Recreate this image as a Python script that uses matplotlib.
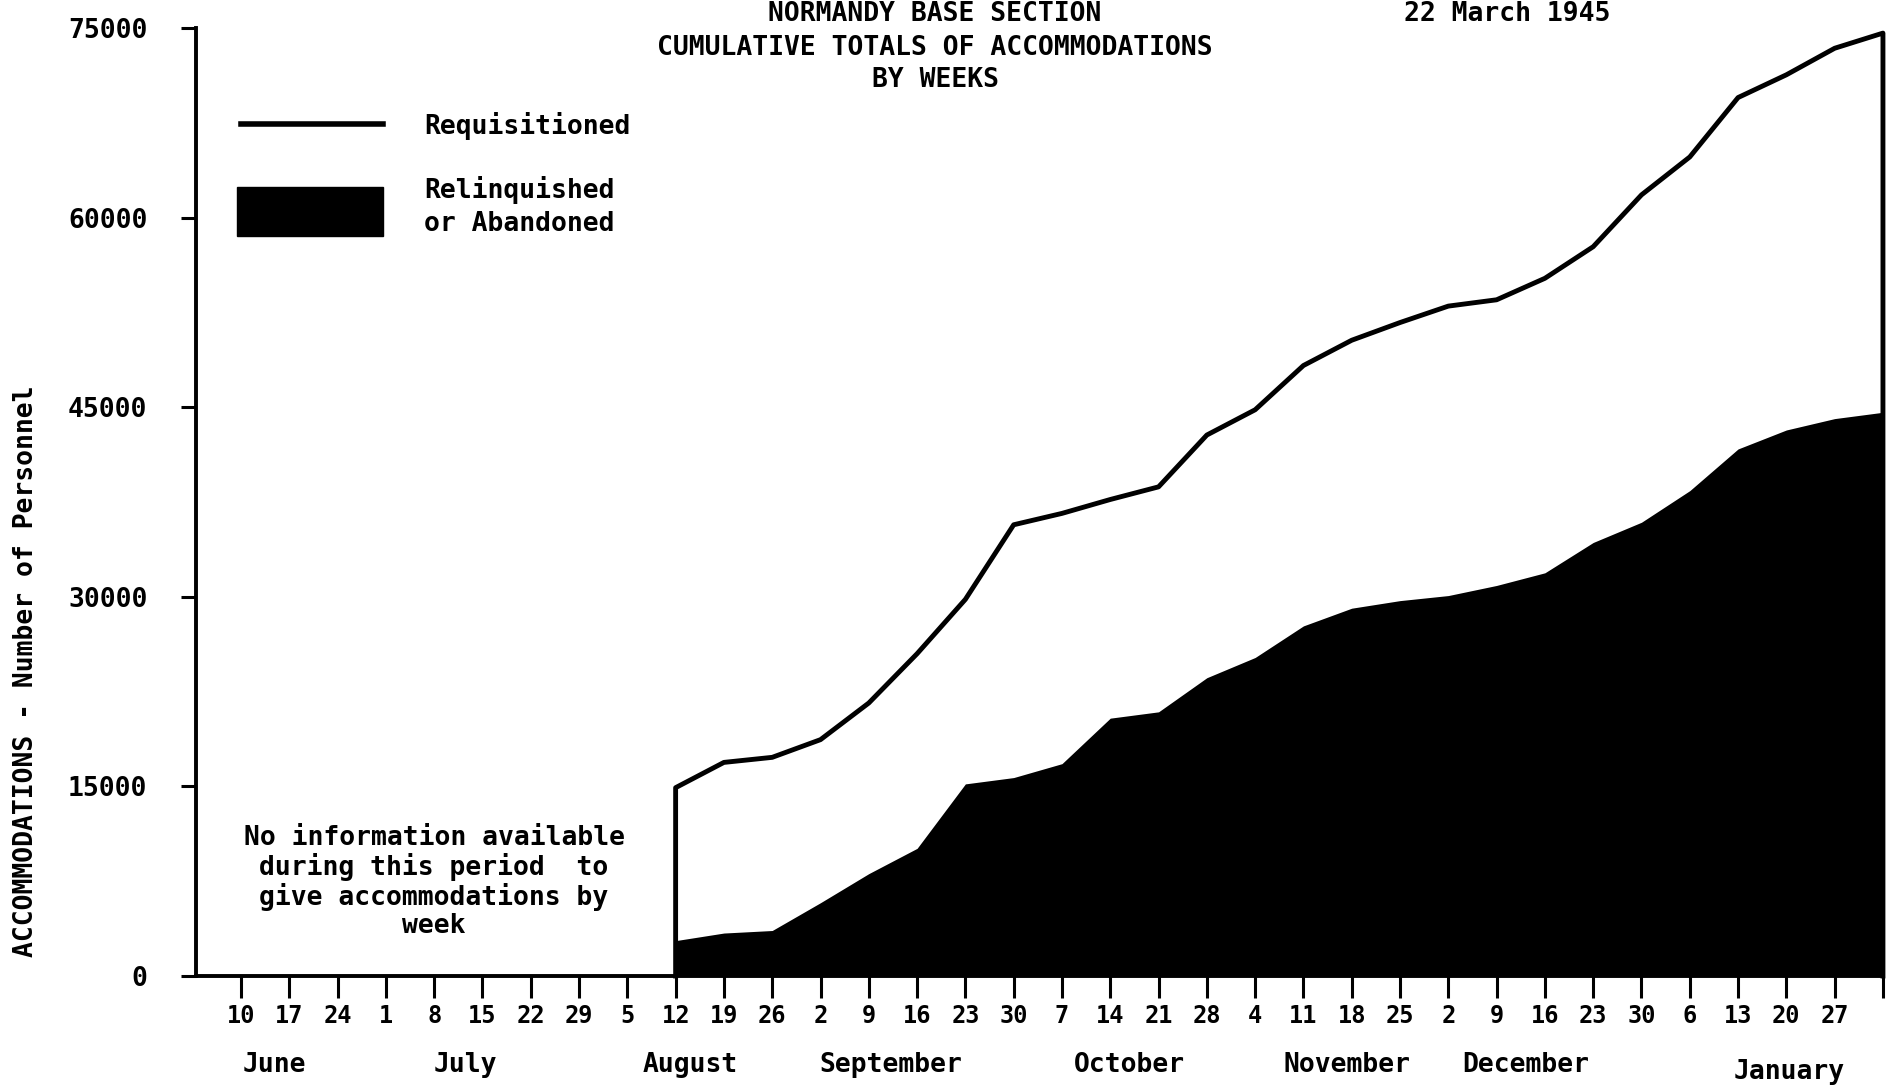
import matplotlib.pyplot as plt
from matplotlib.lines import Line2D
from matplotlib.patches import Rectangle
import matplotlib.transforms as mtransforms

plt.rcParams['font.family'] = 'DejaVu Sans Mono'
plt.rcParams['font.weight'] = 'bold'

# DATA
week_labels = ["10", "17", "24", "1", "8", "15", "22", "29", "5", "12", "19", "26",
               "2", "9", "16", "23", "30", "7", "14", "21", "28", "4", "11", "18",
               "25", "2", "9", "16", "23", "30", "6", "13", "20", "27"]
data_weeks = list(range(9, 35))  # 12 August ... 3 February
requisitioned = [14900, 16900, 17300, 18700, 21600, 25500, 29800, 35700, 36600,
                 37700, 38700, 42800, 44800, 48300, 50300, 51700, 53000, 53500,
                 55200, 57700, 61800, 64800, 69500, 71300, 73400, 74600]
relinquished = [2800, 3400, 3600, 5800, 8100, 10100, 15200, 15700, 16800, 20400,
                20900, 23600, 25200, 27700, 29100, 29700, 30100, 30900, 31900,
                34300, 35900, 38400, 41700, 43200, 44100, 44600]
month_names = ["June", "July", "August", "September", "October", "November",
               "December", "January"]
month_pos = [0.7, 4.65, 9.3, 13.45, 18.4, 22.9, 26.6, 32.05]
y_ticks = [0, 15000, 30000, 45000, 60000, 75000]

# FIGURE
fig = plt.figure(figsize=(18.89, 10.91), dpi=100)
ax = fig.add_axes([0.1038, 0.1054, 0.893, 0.8689])

ax.fill_between(data_weeks, 0, relinquished, color="black", linewidth=0)
line_x = [data_weeks[0]] + data_weeks + [data_weeks[-1]]
line_y = [0] + requisitioned + [0]
ax.plot(line_x, line_y, color="black", linewidth=3.5, clip_on=False,
        solid_joinstyle="round")

ax.set_xlim(-0.93, 34)
ax.set_ylim(0, 75000)

for s in ["top", "right"]:
    ax.spines[s].set_visible(False)
for s in ["left", "bottom"]:
    ax.spines[s].set_linewidth(2.8)

ax.set_xticks(range(0, 35))
ax.set_xticklabels(week_labels + [""], fontsize=17, fontweight="bold")
ax.tick_params(axis="x", direction="out", length=16, width=2.2, pad=4)
ax.set_yticks(y_ticks)
ax.set_yticklabels([str(v) for v in y_ticks], fontsize=19, fontweight="bold")
ax.tick_params(axis="y", direction="out", length=11, width=2.2, pad=24)

# month names under the week numbers
trans = mtransforms.blended_transform_factory(ax.transData, fig.transFigure)
for name, pos in zip(month_names, month_pos):
    yy = 0.017 if name == "January" else 0.024
    ax.text(pos, yy, name, transform=trans, ha="center", va="center",
            fontsize=19, fontweight="bold")

# TITLE
fig.text(0.495, 0.987, "NORMANDY BASE SECTION", ha="center", va="center",
         fontsize=19, fontweight="bold")
fig.text(0.495, 0.956, "CUMULATIVE TOTALS OF ACCOMMODATIONS", ha="center",
         va="center", fontsize=19, fontweight="bold")
fig.text(0.495, 0.927, "BY WEEKS", ha="center", va="center", fontsize=19,
         fontweight="bold")
fig.text(0.798, 0.999, "22 March 1945", ha="center", va="top", fontsize=19)

fig.text(0.0135, 0.385, "ACCOMMODATIONS - Number of Personnel", rotation=90,
         ha="center", va="center", fontsize=19, fontweight="bold")

# LEGEND
fig.add_artist(Line2D([0.1276, 0.2028], [0.886, 0.886], color="black",
                      linewidth=4, transform=fig.transFigure))
fig.add_artist(Rectangle((0.1255, 0.7837), 0.0773, 0.0449, color="black",
                         transform=fig.transFigure))
fig.text(0.2245, 0.8845, "Requisitioned", ha="left", va="center", fontsize=19,
         fontweight="bold")
fig.text(0.2245, 0.826, "Relinquished", ha="left", va="center", fontsize=19,
         fontweight="bold")
fig.text(0.2245, 0.7947, "or Abandoned", ha="left", va="center", fontsize=19,
         fontweight="bold")

# NOTE
fig.text(0.2298, 0.1916,
         "No information available\nduring this period  to\ngive accommodations by\nweek",
         ha="center", va="center", multialignment="center", fontsize=19,
         fontweight="bold", linespacing=1.1)

fig.savefig("out.png", dpi=100)
